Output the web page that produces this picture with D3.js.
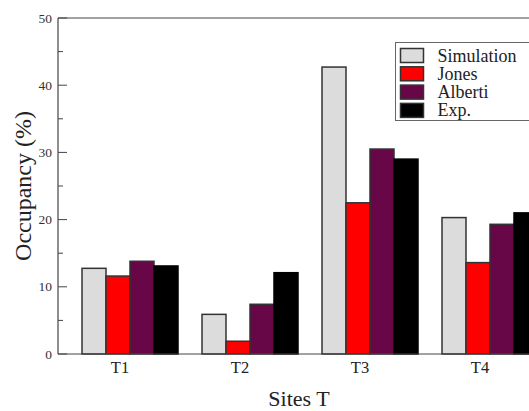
<!DOCTYPE html>
<html>
<head>
<meta charset="utf-8">
<script src="https://cdn.jsdelivr.net/npm/d3@7"></script>
<style>
  body { margin: 0; background: #fff; }
  svg { display: block; font-family: "Liberation Serif", "DejaVu Serif", serif; }
</style>
</head>
<body>
<svg width="529" height="411"></svg>
<script>
// data
const sites = ["T1", "T2", "T3", "T4"]
const seriesNames = ["Simulation", "Jones", "Alberti", "Exp."]
const simulation = [12.75, 5.9, 42.7, 20.3]
const jones = [11.6, 1.9, 22.5, 13.6]
const alberti = [13.8, 7.4, 30.5, 19.3]
const exp = [13.1, 12.1, 29.0, 21.0]
const yTicks = [0, 10, 20, 30, 40, 50]
const yMinorTicks = [5, 15, 25, 35, 45]

const colors = ["#dcdcdc", "#ff0000", "#670748", "#000000"]
const allSeries = [simulation, jones, alberti, exp]

const svg = d3.select("svg")

// xmgrace style world coords: site i sits at x = i+1
const xScale = d3.scaleLinear().domain([0.4, 4.6]).range([58, 562])
const yScale = d3.scaleLinear().domain([0, 50]).range([354, 18])
const barW = 0.2

// bars
allSeries.forEach((vals, s) => {
  svg.selectAll("rect.s" + s)
    .data(vals)
    .enter()
    .append("rect")
    .attr("class", "s" + s)
    .attr("x", (d, i) => xScale(i + 1 + (s - 2) * barW))
    .attr("width", xScale(barW) - xScale(0))
    .attr("y", d => yScale(d))
    .attr("height", d => yScale(0) - yScale(d))
    .style("fill", colors[s])
    .style("stroke", s == 3 ? "#000" : "#333")
    .style("stroke-width", 1.5)
})

// frame
const frame = svg.append("g").style("stroke", "#444").style("stroke-width", 1.2).style("fill", "none")
frame.append("line").attr("x1", 58).attr("x2", 529).attr("y1", yScale(50)).attr("y2", yScale(50))
frame.append("line").attr("x1", 58).attr("x2", 529).attr("y1", yScale(0)).attr("y2", yScale(0))
frame.append("line").attr("x1", 58).attr("x2", 58).attr("y1", yScale(0)).attr("y2", yScale(50))

// y axis, ticks pointing inward
svg.selectAll("line.ytick")
  .data(yTicks)
  .enter()
  .append("line")
  .attr("class", "ytick")
  .attr("x1", 58).attr("x2", 67)
  .attr("y1", d => yScale(d)).attr("y2", d => yScale(d))
  .style("stroke", "#444")
svg.selectAll("line.yminor")
  .data(yMinorTicks)
  .enter()
  .append("line")
  .attr("class", "yminor")
  .attr("x1", 58).attr("x2", 63)
  .attr("y1", d => yScale(d)).attr("y2", d => yScale(d))
  .style("stroke", "#444")
svg.selectAll("text.ylab")
  .data(yTicks)
  .enter()
  .append("text")
  .attr("class", "ylab")
  .attr("x", 52)
  .attr("y", d => yScale(d) + 4.5)
  .attr("text-anchor", "end")
  .style("font-size", "13.5px")
  .style("fill", "#333")
  .text(d => d)

// x labels (sit a bit left of the group centre in the original)
svg.selectAll("text.xlab")
  .data(sites)
  .enter()
  .append("text")
  .attr("class", "xlab")
  .attr("x", (d, i) => xScale(i + 1) - 10)
  .attr("y", 373)
  .attr("text-anchor", "middle")
  .style("font-size", "16.5px")
  .style("fill", "#222")
  .text(d => d)

svg.append("text")
  .attr("x", 299)
  .attr("y", 406)
  .attr("text-anchor", "middle")
  .style("font-size", "22px")
  .style("fill", "#222")
  .text("Sites T")

svg.append("text")
  .attr("transform", "translate(31,186) rotate(-90)")
  .attr("text-anchor", "middle")
  .style("font-size", "24px")
  .style("fill", "#222")
  .text("Occupancy (%)")

// legend
const legend = svg.append("g").attr("transform", "translate(395.5,42.5)")
legend.append("rect")
  .attr("width", 160).attr("height", 78)
  .style("fill", "#fff").style("stroke", "#666").style("stroke-width", 1)
const item = legend.selectAll("g.item")
  .data(seriesNames)
  .enter()
  .append("g")
  .attr("class", "item")
  .attr("transform", (d, i) => "translate(0," + (6 + i * 18.3) + ")")
item.append("rect")
  .attr("x", 5).attr("width", 23).attr("height", 14)
  .style("fill", (d, i) => colors[i])
  .style("stroke", "#333").style("stroke-width", 1.5)
item.append("text")
  .attr("x", 42).attr("y", 13)
  .style("font-size", "18px")
  .style("fill", "#222")
  .text(d => d)
</script>
</body>
</html>
